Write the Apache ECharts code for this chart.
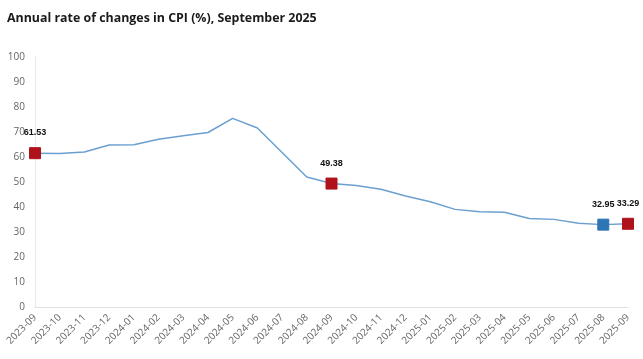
<!DOCTYPE html>
<html><head><meta charset="utf-8">
<script src="https://cdn.jsdelivr.net/npm/echarts@6/dist/echarts.min.js"></script>
<style>html,body{margin:0;padding:0;background:#fff}#c{width:643px;height:359px}</style>
</head><body><div id="c"></div>
<script>
const categories = ["2023-09","2023-10","2023-11","2023-12","2024-01","2024-02","2024-03","2024-04","2024-05","2024-06","2024-07","2024-08","2024-09","2024-10","2024-11","2024-12","2025-01","2025-02","2025-03","2025-04","2025-05","2025-06","2025-07","2025-08","2025-09"];
const values = [61.53,61.36,61.98,64.77,64.86,67.07,68.50,69.80,75.45,71.60,61.78,51.97,49.38,48.58,47.09,44.38,42.12,39.05,38.10,37.86,35.41,35.05,33.52,32.95,33.29];
const redPoints = ["2023-09","2024-09","2025-09"];
const bluePoints = ["2025-08"];
const yTicks = [0,10,20,30,40,50,60,70,80,90,100];

const font = '"Open Sans", "Noto Sans", sans-serif';
const chart = echarts.init(document.getElementById('c'));
const data = values.map((v,i)=>{
  const c = categories[i];
  if (redPoints.includes(c) || bluePoints.includes(c)) {
    const col = redPoints.includes(c) ? '#B0121B' : '#2E75B6';
    return {value: v, symbol:'rect', symbolSize: 11,
      itemStyle:{color: col, borderColor: col},
      label:{show:true, position:'top', distance: 10, formatter: v.toFixed(2),
        color:'#111', fontWeight:'bold', fontSize:9, fontFamily:'"Liberation Sans", Arial, sans-serif'}};
  }
  return {value: v, symbol:'none'};
});
chart.setOption({
  animation:false,
  title:{text:'Annual rate of changes in CPI (%), September 2025', left:2, top:7,
    textStyle:{fontSize:12.4, fontWeight:'bold', color:'#1a1a1a', fontFamily:font}},
  grid:{left:35, right:15, top:57, bottom:52},
  xAxis:{type:'category', data:categories, boundaryGap:false,
    axisLine:{show:true, lineStyle:{color:'#e0e0e0'}},
    axisTick:{show:false},
    axisLabel:{rotate:45, interval:0, fontSize:10, color:'#666', fontFamily:font, margin:9}},
  yAxis:{type:'value', min:yTicks[0], max:yTicks[yTicks.length-1], interval:10,
    axisLine:{show:true, lineStyle:{color:'#e8e8e8'}},
    axisTick:{show:false}, splitLine:{show:false},
    axisLabel:{fontSize:10, color:'#666', fontFamily:font, margin:10}},
  series:[{type:'line', data:data, showAllSymbol:true,
    lineStyle:{color:'#6A9FD0', width:1.5}, itemStyle:{color:'#6A9FD0'}}]
});
</script></body></html>
